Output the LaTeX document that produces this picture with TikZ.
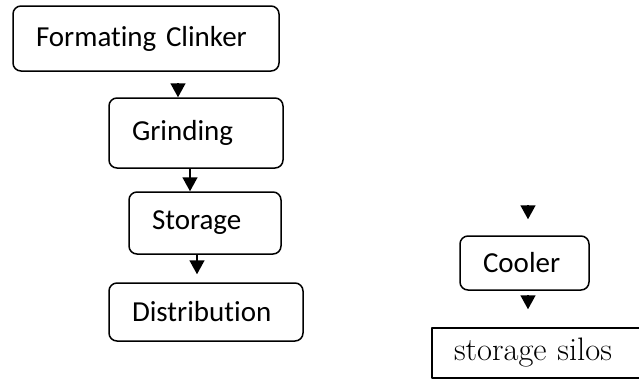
\documentclass[tikz,border=0pt]{standalone}
\usepackage{fontspec}
\newfontfamily\calib[Ligatures=NoCommon]{Carlito}
\usetikzlibrary{arrows.meta}

\tikzset{
  stepbox/.style={draw, line width=1.5pt, rounded corners=8pt, inner xsep=23pt, inner ysep=0pt,
    align=left, font=\calib\fontsize{29}{34}\selectfont},
  silobox/.style={draw, line width=1.5pt, inner xsep=22pt, inner ysep=0pt,
    align=left, font=\fontsize{32.5}{38}\selectfont},
  flow/.style={-{Triangle[width=15pt,length=14pt]}, line width=1.5pt}
}

\begin{document}
\begin{tikzpicture}[line cap=butt,line join=round,x=1pt,y=-1pt]
\useasboundingbox (0,0) rectangle (639,389);

\node[stepbox, text width=220pt, minimum height=65pt] (clinker) at (146,38.5) {Formating Clinker};
\node[stepbox, text width=128pt, minimum height=70pt] (grind) at (196,133) {Grinding};
\node[stepbox, text width=106pt, minimum height=62pt] (store) at (205,223) {Storage};
\node[stepbox, text width=148pt, minimum height=58pt] (distr) at (206,312) {Distribution};

\node[stepbox, text width=83pt, minimum height=54pt] (cooler) at (524.5,263) {Cooler};
\node[silobox, text width=240pt, minimum height=50pt] (silos) at (574,353) {storage silos};

\coordinate (t1) at (178,83);
\coordinate (c1) at (528,205);
\coordinate (c2) at (528,295);

\draw[flow] (t1) -- (t1 |- grind.north);
\draw[flow] ([xshift=-6pt]grind.south) -- ([xshift=-6pt]grind.south |- store.north);
\draw[flow, shorten >=8pt] ([xshift=-8pt]store.south) -- ([xshift=-8pt]store.south |- distr.north);

\draw[flow, shorten >=16pt] (c1) -- (c1 |- cooler.north);
\draw[flow, shorten >=18pt] (c2) -- (c2 |- silos.north);
\end{tikzpicture}
\end{document}
